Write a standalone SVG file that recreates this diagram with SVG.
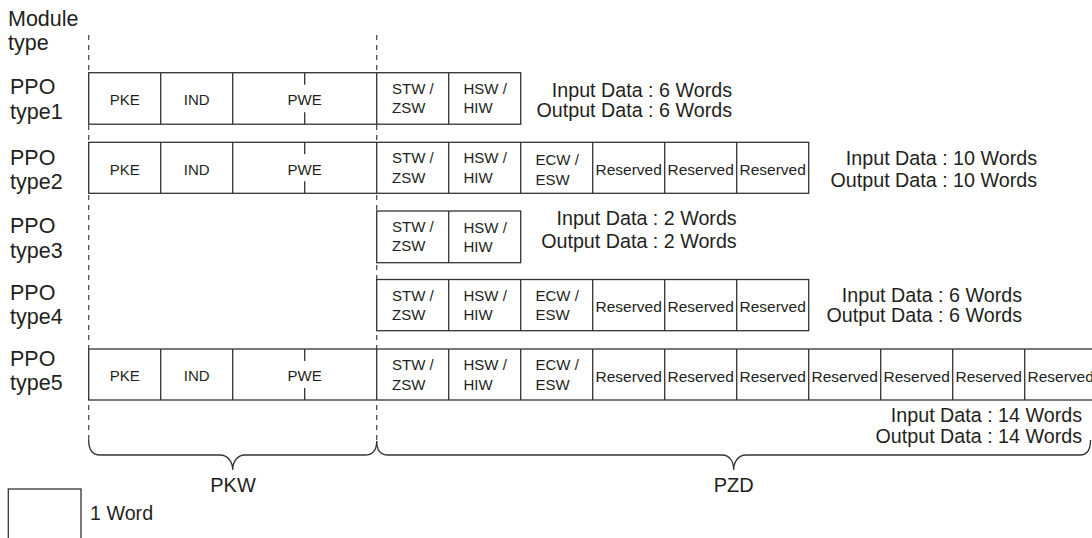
<svg xmlns="http://www.w3.org/2000/svg" width="1092" height="538" viewBox="0 0 1092 538">
<style>
text{font-family:"Liberation Sans",Arial,sans-serif;fill:#231f20}
.lbl{font-size:21.5px}
.cell{font-size:15px}
.res{font-size:15.5px;text-anchor:middle}
.mid{text-anchor:middle}
.data{font-size:19.7px;text-anchor:end}
.big{font-size:20px;text-anchor:middle}
.box{fill:#fff;stroke:#333;stroke-width:1.3}
.ln{stroke:#333;stroke-width:1.3;fill:none}
.dash{stroke:#333;stroke-width:1.1;stroke-dasharray:5 5;fill:none}
</style>
<rect width="1092" height="538" fill="#fff"/>
<g id="connectors">
<line class="dash" x1="88.7" y1="35" x2="88.7" y2="440"/>
<line class="dash" x1="376.7" y1="35" x2="376.7" y2="441"/>
<path class="ln" d="M88.7,440 C88.7,450 92,455 100,455 L220,455 C228,455 232.7,462 232.7,470 C232.7,462 237,455 245,455 L365,455 C373,455 376.7,450 376.7,441"/>
<path class="ln" d="M376.7,441 C376.7,450 380,455 388,455 L722,455 C730,455 733.7,462 733.7,470 C733.7,462 738,455 746,455 L1080,455 C1087,455 1090.5,450 1090.5,440"/>
</g>
<g id="header">
<text class="lbl" x="8" y="26">Module</text>
<text class="lbl" x="8" y="50">type</text>
</g>
<g id="ppo1">
<text class="lbl" x="10" y="94.3">PPO</text>
<text class="lbl" x="10" y="118.5">type1</text>
<rect class="box" x="88.7" y="72.7" width="432" height="51.5"/>
<path class="ln" d="M160.7,72.7V124.2M232.7,72.7V124.2M376.7,72.7V124.2M448.7,72.7V124.2M304.7,72.7v12M304.7,124.2v-12"/>
<text class="cell mid" x="124.7" y="105">PKE</text>
<text class="cell mid" x="196.7" y="105">IND</text>
<text class="cell mid" x="304.7" y="105">PWE</text>
<text class="cell" x="392" y="93.7">STW /<tspan x="392" y="113.2">ZSW</tspan></text>
<text class="cell" x="463.5" y="93.7">HSW /<tspan x="463.5" y="113.2">HIW</tspan></text>
<text class="data" x="732" y="96.5">Input Data : 6 Words</text>
<text class="data" x="732" y="117">Output Data : 6 Words</text>
</g>
<g id="ppo2">
<text class="lbl" x="10" y="165">PPO</text>
<text class="lbl" x="10" y="188.5">type2</text>
<rect class="box" x="88.7" y="142.3" width="720" height="51"/>
<path class="ln" d="M160.7,142.3V193.3M232.7,142.3V193.3M376.7,142.3V193.3M448.7,142.3V193.3M520.7,142.3V193.3M592.7,142.3V193.3M664.7,142.3V193.3M736.7,142.3V193.3M304.7,142.3v12M304.7,193.3v-12"/>
<text class="cell mid" x="124.7" y="174.5">PKE</text>
<text class="cell mid" x="196.7" y="174.5">IND</text>
<text class="cell mid" x="304.7" y="174.5">PWE</text>
<text class="cell" x="392" y="163.3">STW /<tspan x="392" y="182.7">ZSW</tspan></text>
<text class="cell" x="463.5" y="163.3">HSW /<tspan x="463.5" y="182.7">HIW</tspan></text>
<text class="cell" x="535.5" y="165">ECW /<tspan x="535.5" y="184.5">ESW</tspan></text>
<text class="res" x="628.7" y="175">Reserved</text>
<text class="res" x="700.7" y="175">Reserved</text>
<text class="res" x="772.7" y="175">Reserved</text>
<text class="data" x="1037" y="164.5">Input Data : 10 Words</text>
<text class="data" x="1037" y="186.7">Output Data : 10 Words</text>
</g>
<g id="ppo3">
<text class="lbl" x="10" y="233.3">PPO</text>
<text class="lbl" x="10" y="257.5">type3</text>
<rect class="box" x="376.7" y="211" width="144" height="51.7"/>
<path class="ln" d="M448.7,211V262.7"/>
<text class="cell" x="392" y="232">STW /<tspan x="392" y="251.4">ZSW</tspan></text>
<text class="cell" x="463.5" y="233">HSW /<tspan x="463.5" y="252.4">HIW</tspan></text>
<text class="data" x="736.7" y="225">Input Data : 2 Words</text>
<text class="data" x="736.7" y="247.5">Output Data : 2 Words</text>
</g>
<g id="ppo4">
<text class="lbl" x="10" y="300">PPO</text>
<text class="lbl" x="10" y="324">type4</text>
<rect class="box" x="376.7" y="279.5" width="432" height="51.2"/>
<path class="ln" d="M448.7,279.5V330.7M520.7,279.5V330.7M592.7,279.5V330.7M664.7,279.5V330.7M736.7,279.5V330.7"/>
<text class="cell" x="392" y="300.5">STW /<tspan x="392" y="320">ZSW</tspan></text>
<text class="cell" x="463.5" y="300.5">HSW /<tspan x="463.5" y="320">HIW</tspan></text>
<text class="cell" x="535.5" y="300.5">ECW /<tspan x="535.5" y="320">ESW</tspan></text>
<text class="res" x="628.7" y="311.5">Reserved</text>
<text class="res" x="700.7" y="311.5">Reserved</text>
<text class="res" x="772.7" y="311.5">Reserved</text>
<text class="data" x="1022" y="301.7">Input Data : 6 Words</text>
<text class="data" x="1022" y="322">Output Data : 6 Words</text>
</g>
<g id="ppo5">
<text class="lbl" x="10" y="365.5">PPO</text>
<text class="lbl" x="10" y="389.5">type5</text>
<rect class="box" x="88.7" y="349" width="1008" height="51"/>
<path class="ln" d="M160.7,349V400M232.7,349V400M376.7,349V400M448.7,349V400M520.7,349V400M592.7,349V400M664.7,349V400M736.7,349V400M808.7,349V400M880.7,349V400M952.7,349V400M1024.7,349V400M304.7,349v12M304.7,400v-12"/>
<text class="cell mid" x="124.7" y="381">PKE</text>
<text class="cell mid" x="196.7" y="381">IND</text>
<text class="cell mid" x="304.7" y="381">PWE</text>
<text class="cell" x="392" y="370">STW /<tspan x="392" y="389.5">ZSW</tspan></text>
<text class="cell" x="463.5" y="370">HSW /<tspan x="463.5" y="389.5">HIW</tspan></text>
<text class="cell" x="535.5" y="370">ECW /<tspan x="535.5" y="389.5">ESW</tspan></text>
<text class="res" x="628.7" y="381.5">Reserved</text>
<text class="res" x="700.7" y="381.5">Reserved</text>
<text class="res" x="772.7" y="381.5">Reserved</text>
<text class="res" x="844.7" y="381.5">Reserved</text>
<text class="res" x="916.7" y="381.5">Reserved</text>
<text class="res" x="988.7" y="381.5">Reserved</text>
<text class="res" x="1060.7" y="381.5">Reserved</text>
<text class="data" x="1082" y="421.7">Input Data : 14 Words</text>
<text class="data" x="1082" y="443.3">Output Data : 14 Words</text>
</g>
<g id="pkw">
<text class="big" x="233" y="492">PKW</text>
</g>
<g id="pzd">
<text class="big" x="733.7" y="492">PZD</text>
</g>
<g id="legend">
<rect class="box" x="8.3" y="489" width="72.7" height="60"/>
<text class="data" style="text-anchor:start" x="90" y="520">1 Word</text>
</g>
</svg>
